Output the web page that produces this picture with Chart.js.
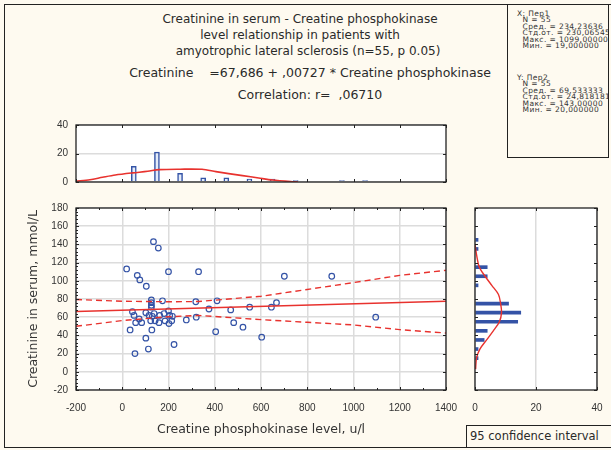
<!DOCTYPE html>
<html>
<head>
<meta charset="utf-8">
<script src="https://cdn.jsdelivr.net/npm/chart.js@4.4.1/dist/chart.umd.min.js"></script>
<style>
  body { margin: 0; }
  #page { position: relative; width: 611px; height: 450px; background: #fefaf0; overflow: hidden;
          font-family: "DejaVu Sans", sans-serif; color: #2a2a2a; }
  #page canvas { position: absolute; left: 0; top: 0; }
  .frame { position: absolute; left: 4px; top: 4px; width: 640px; height: 444px; border: 1px solid #222; box-sizing: border-box; }
  .line { position: absolute; white-space: pre; font-size: 12px; line-height: 14px; transform: translateX(-50%); }
  #stats { position: absolute; left: 507px; top: 4px; width: 102px; height: 154px; border: 1px solid #222;
           background: #fefaf0; box-sizing: border-box; font-size: 7.5px; line-height: 6.4px; white-space: pre;
           letter-spacing: 0.4px; padding: 6px 0 0 9px; overflow: hidden; color: #333; }
  #ci { position: absolute; left: 466px; top: 425px; width: 150px; height: 23px; border: 1px solid #222;
        box-sizing: border-box; font-size: 11.5px; line-height: 21px; padding-left: 3px; white-space: pre; background: #fefaf0; }
</style>
</head>
<body>
<div id="page">
  <div class="frame"></div>
  <div class="line" style="left:300px;top:12px">Creatinine in serum - Creatine phosphokinase</div>
  <div class="line" style="left:300px;top:28px">level relationship in patients with</div>
  <div class="line" style="left:308px;top:44px">amyotrophic lateral sclerosis (n=55, p 0.05)</div>
  <div class="line" style="left:310px;top:66px;font-size:12.5px">Creatinine    =67,686 + ,00727 * Creatine phosphokinase</div>
  <div class="line" style="left:310px;top:88px;font-size:12.5px">Correlation: r=  ,06710</div>
  <div id="stats">X: Пер1
  N = 55
  Сред. = 234,23636
  Стд.от. = 230,06545
  Макс. = 1099,00000
  Мин. = 19,000000




Y: Пер2
  N = 55
  Сред. = 69,533333
  Стд.от. = 24,818181
  Макс. = 143,00000
  Мин. = 20,000000</div>
  <canvas id="histTop" width="611" height="450"></canvas>
  <canvas id="histRight" width="611" height="450"></canvas>
  <canvas id="scatter" width="611" height="450"></canvas>
  <div id="ci">95 confidence interval</div>
</div>

<script>
// Scatter points: CPK (u/l) and creatinine (mmol/L)
const cpk = [19, 135, 156, 200, 330, 65, 76, 104, 701, 906,
             1096, 404, 603, 522, 482, 224, 55, 113, 102, 34,
             128, 318, 410, 174, 126, 126, 126, 126, 320, 375,
             469, 551, 645, 667, 277, 44, 51, 102, 116, 138,
             162, 181, 200, 205, 73, 84, 58, 123, 142, 159,
             185, 202, 214, 217, 130]
const creatinine = [113, 143, 136, 110, 110, 106, 101, 94, 105, 105,
                    60, 44, 38, 49, 54, 30, 20, 25, 37, 46,
                    46, 77, 78, 78, 79, 76, 73, 71, 60, 69,
                    68, 71, 71, 76, 57, 66, 62, 65, 62, 64,
                    62, 64, 67, 62, 58, 54, 54, 56, 56, 54,
                    56, 53, 56, 61, 61]

// Regression line and 95% band
const fitX = [-200, 1400]
const fitY = [66.2, 77.5]
const bandX = [-200, 0, 200, 330, 600, 800, 1000, 1200, 1400]
const bandUpper = [79.4, 77.5, 77, 77.2, 83, 90.5, 98, 106, 111.5]
const bandLower = [50, 56.3, 60.5, 62, 57.3, 54.4, 51.5, 46.3, 42.6]

// Top histogram (CPK)
const cpkBins = [50, 150, 250, 350, 450, 550, 650, 750, 950, 1050]
const cpkCounts = [11, 21, 6, 3, 3, 2, 2, 1, 1, 1]
const cpkCurveX = [-200, -140, -85, -30, 45, 110, 160, 250, 345, 405, 460, 520, 590, 650, 735, 760]
const cpkCurveY = [0.5, 1.6, 3.3, 4.9, 6.4, 7.5, 8.7, 9, 8.9, 7.3, 5.9, 4.5, 2.8, 1.4, 0.2, 0]

// Right histogram (creatinine)
const crBins = [145, 135, 115, 105, 95, 75, 65, 55, 45, 35, 25, 15]
const crCounts = [1, 1, 4, 4, 1, 11, 15, 14, 4, 3, 1, 1]
const crCurveY = [140, 135, 125, 115, 105, 95, 85, 75, 65, 55, 45, 35, 25, 15, 3]
const crCurveX = [0, 0.2, 0.7, 1.4, 3.3, 5.5, 7.7, 8.4, 8.7, 8, 6, 3.8, 1.6, 0.5, 0.2]

const red = '#e8322e'
const blue = '#3453a6'
const tickFont = { family: '"Liberation Sans", sans-serif', size: 10 }
const titleFont = { family: '"DejaVu Sans", sans-serif', size: 12.5 }
const gridColor = '#dcdcdc'
const plain = (v) => String(v)

// fixed axis box so the plot areas land where they should
function fixedBox(size) {
    return (s) => {
        if (s.isHorizontal()) s.height = size
        else s.width = size
        s.paddingLeft = s.paddingRight = s.paddingTop = s.paddingBottom = 0
    }
}

// white plot background, black frame and small inside tick marks
const frameTicks = {
    id: 'frameTicks',
    beforeDraw(chart) {
        const { ctx, chartArea: a } = chart
        ctx.save()
        ctx.fillStyle = '#ffffff'
        ctx.fillRect(a.left, a.top, a.width, a.height)
        ctx.restore()
    },
    afterDraw(chart, args, opts) {
        const { ctx, chartArea: a, scales } = chart
        ctx.save()
        ctx.strokeStyle = '#222'
        ctx.lineWidth = 1
        ctx.beginPath()
        const xs = scales.x, ys = scales.y
        const vTick = (p, len) => {
            ctx.moveTo(p, a.bottom); ctx.lineTo(p, a.bottom - len)
            ctx.moveTo(p, a.top); ctx.lineTo(p, a.top + len)
        }
        const hTick = (p, len, both) => {
            ctx.moveTo(a.left, p); ctx.lineTo(a.left + len, p)
            if (both) { ctx.moveTo(a.right, p); ctx.lineTo(a.right - len, p) }
        }
        xs.ticks.forEach(t => vTick(Math.round(xs.getPixelForValue(t.value)) + 0.5, 3))
        ys.ticks.forEach(t => hTick(Math.round(ys.getPixelForValue(t.value)) + 0.5, 3, true))
        if (opts.xMinor) {
            for (let v = xs.min + opts.xMinor; v < xs.max; v += opts.xMinor)
                vTick(Math.round(xs.getPixelForValue(v)) + 0.5, 2)
        }
        if (opts.yMinor) {
            for (let v = ys.min + opts.yMinor; v < ys.max; v += opts.yMinor)
                hTick(Math.round(ys.getPixelForValue(v)) + 0.5, 2, false)
        }
        ctx.stroke()
        ctx.lineWidth = 1.3
        ctx.strokeRect(a.left, a.top, a.width, a.height)
        ctx.restore()
    }
}
Chart.register(frameTicks)

// Scatter with regression line
new Chart(document.getElementById('scatter'), {
    type: 'scatter',
    data: {
        datasets: [
            {
                type: 'line',
                data: fitX.map((x, i) => ({ x: x, y: fitY[i] })),
                borderColor: red, borderWidth: 1.6, pointRadius: 0
            },
            {
                type: 'line',
                data: bandX.map((x, i) => ({ x: x, y: bandUpper[i] })),
                borderColor: red, borderWidth: 1.4, borderDash: [6, 4], pointRadius: 0
            },
            {
                type: 'line',
                data: bandX.map((x, i) => ({ x: x, y: bandLower[i] })),
                borderColor: red, borderWidth: 1.4, borderDash: [6, 4], pointRadius: 0
            },
            {
                data: cpk.map((x, i) => ({ x: x, y: creatinine[i] })),
                pointStyle: 'circle', pointRadius: 2.8,
                borderColor: blue, borderWidth: 1.2, backgroundColor: 'rgba(255,255,255,0)'
            }
        ]
    },
    options: {
        responsive: false,
        animation: false,
        layout: { padding: { left: 6, top: 208, right: 165, bottom: 10 } },
        plugins: {
            legend: { display: false },
            tooltip: { enabled: false },
            frameTicks: { xMinor: 100, yMinor: 4 }
        },
        scales: {
            x: {
                type: 'linear', min: -200, max: 1400, offset: false,
                ticks: { stepSize: 200, font: tickFont, color: '#333', padding: 12, maxRotation: 0, callback: plain },
                grid: { color: gridColor, lineWidth: 1.5, drawTicks: false },
                border: { display: false },
                title: { display: true, text: 'Creatine phosphokinase level, u/l', font: titleFont, color: '#333', padding: { top: 0, bottom: 3 } },
                afterFit: fixedBox(50)
            },
            y: {
                min: -20, max: 180,
                ticks: { stepSize: 20, font: tickFont, color: '#333', padding: 8, callback: plain },
                grid: { color: gridColor, lineWidth: 1.5, drawTicks: false },
                border: { display: false },
                title: { display: true, text: 'Creatinine in serum, mmol/L', font: titleFont, color: '#333', padding: { top: 20, bottom: 0 } },
                afterFit: fixedBox(70)
            }
        }
    }
})

// Top histogram
new Chart(document.getElementById('histTop'), {
    type: 'bar',
    data: {
        datasets: [
            {
                type: 'line',
                data: cpkCurveX.map((x, i) => ({ x: x, y: cpkCurveY[i] })),
                borderColor: red, borderWidth: 1.6, pointRadius: 0, tension: 0.3
            },
            {
                type: 'bar',
                data: cpkBins.map((x, i) => ({ x: x, y: cpkCounts[i] })),
                barThickness: 5, backgroundColor: '#e4ecf9', borderColor: blue, borderWidth: 1.5
            }
        ]
    },
    options: {
        responsive: false,
        animation: false,
        layout: { padding: { left: 6, top: 125, right: 165, bottom: 268 } },
        plugins: { legend: { display: false }, tooltip: { enabled: false }, frameTicks: {} },
        scales: {
            x: {
                type: 'linear', min: -200, max: 1400, offset: false,
                ticks: { stepSize: 200, display: false },
                grid: { display: false },
                border: { display: false },
                afterFit: fixedBox(0)
            },
            y: {
                min: 0, max: 40,
                ticks: { stepSize: 20, font: tickFont, color: '#333', padding: 8 },
                grid: { color: gridColor, lineWidth: 1.5, drawTicks: false },
                border: { display: false },
                afterFit: fixedBox(70)
            }
        }
    }
})

// Right histogram (horizontal)
new Chart(document.getElementById('histRight'), {
    type: 'bar',
    data: {
        datasets: [
            {
                type: 'line',
                indexAxis: 'y',
                data: crCurveY.map((y, i) => ({ x: crCurveX[i], y: y })),
                borderColor: red, borderWidth: 1.4, pointRadius: 0, tension: 0.3
            },
            {
                type: 'bar',
                data: crBins.map((y, i) => ({ x: crCounts[i], y: y })),
                barThickness: 3, backgroundColor: blue, borderWidth: 0
            }
        ]
    },
    options: {
        indexAxis: 'y',
        responsive: false,
        animation: false,
        layout: { padding: { left: 475, top: 208, right: 14, bottom: 30 } },
        plugins: { legend: { display: false }, tooltip: { enabled: false }, frameTicks: {} },
        scales: {
            x: {
                type: 'linear', min: 0, max: 40, offset: false,
                ticks: { stepSize: 20, font: tickFont, color: '#333', padding: 12 },
                grid: { color: gridColor, lineWidth: 1.5, drawTicks: false },
                border: { display: false },
                afterFit: fixedBox(30)
            },
            y: {
                type: 'linear', min: -20, max: 180, offset: false,
                ticks: { stepSize: 20, display: false },
                grid: { display: false },
                border: { display: false },
                afterFit: fixedBox(0)
            }
        }
    }
})
</script>
</body>
</html>
